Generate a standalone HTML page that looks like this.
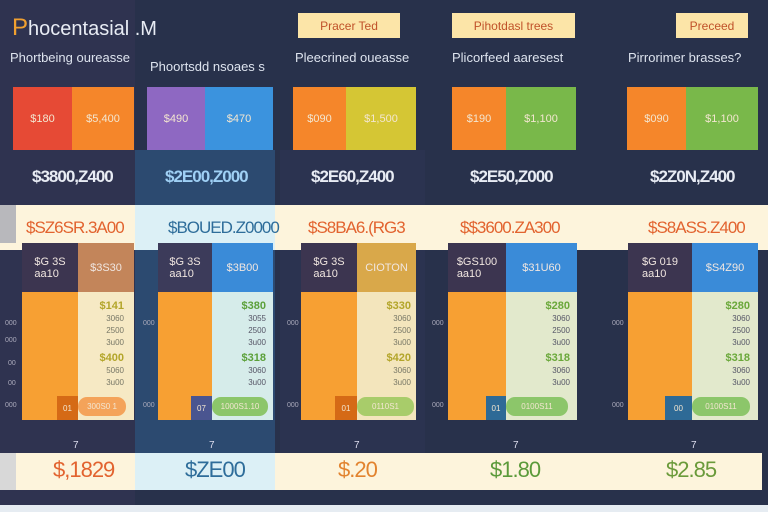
<!DOCTYPE html>
<html><head><meta charset="utf-8"><style>
*{margin:0;padding:0;box-sizing:border-box}
body{width:768px;height:512px;overflow:hidden;background:#28314b;font-family:"Liberation Sans",sans-serif;position:relative}
div{position:absolute}
.t{white-space:nowrap;text-align:center}
.s{font-size:11px;color:#f3e6d0;display:flex;align-items:center;justify-content:center}
.badge{background:#fce5a8;color:#c0522a;font-size:12px;display:flex;align-items:center;justify-content:center;top:13px;height:25px}
.sub{font-size:13px;color:#dde3ee;top:50px}
.val{font-size:17px;color:#e8ecf4;top:167px;font-weight:bold;letter-spacing:-1px}
.band{font-size:17px;top:218px;letter-spacing:-1px}
.price{font-size:22px;top:457px;letter-spacing:-1px}
.hd{top:243px;height:49px;font-size:11px;color:#f0e6e0;display:flex;align-items:center;justify-content:center}
.or{top:292px;height:128px;background:#f7a033}
.cr{top:292px;height:128px}
.ax{font-size:7px;color:#aab;left:0}
.sm{font-size:11px;font-weight:bold;text-align:right}
</style></head><body>
<div style="left:0;top:0;width:135px;height:512px;background:#2f3350"></div>
<div style="left:135px;top:150px;width:140px;height:340px;background:#2c4a70"></div>
<div style="left:280px;top:150px;width:145px;height:340px;background:#2b3350"></div>
<div style="left:12px;top:14px;font-size:20px;color:#e8ecf4;white-space:nowrap"><span style="color:#f0a030;font-size:24px">P</span>hocentasial .M</div>
<div class="badge" style="left:298px;width:102px">Pracer Ted</div>
<div class="badge" style="left:452px;width:123px">Pihotdasl trees</div>
<div class="badge" style="left:676px;width:72px">Preceed</div>
<div class="sub t" style="left:10px">Phortbeing oureasse</div>
<div class="sub t" style="left:150px;top:59px">Phoortsdd nsoaes s</div>
<div class="sub t" style="left:295px">Pleecrined oueasse</div>
<div class="sub t" style="left:452px">Plicorfeed aaresest</div>
<div class="sub t" style="left:628px">Pirrorimer brasses?</div>
<div class="s" style="left:13px;top:87px;width:59px;height:63px;background:#e64a35">$180</div>
<div class="s" style="left:72px;top:87px;width:62px;height:63px;background:#f5862a">$5,400</div>
<div class="s" style="left:147px;top:87px;width:58px;height:63px;background:#8e68c2">$490</div>
<div class="s" style="left:205px;top:87px;width:68px;height:63px;background:#3b93de">$470</div>
<div class="s" style="left:293px;top:87px;width:53px;height:63px;background:#f5862a">$090</div>
<div class="s" style="left:346px;top:87px;width:70px;height:63px;background:#d5c634">$1,500</div>
<div class="s" style="left:452px;top:87px;width:54px;height:63px;background:#f5862a">$190</div>
<div class="s" style="left:506px;top:87px;width:70px;height:63px;background:#79b84a">$1,100</div>
<div class="s" style="left:627px;top:87px;width:59px;height:63px;background:#f5862a">$090</div>
<div class="s" style="left:686px;top:87px;width:72px;height:63px;background:#79b84a">$1,100</div>
<div class="val" style="left:32px">$3800,Z400</div>
<div class="val" style="left:165px;color:#9fd0f5">$2E00,Z000</div>
<div class="val" style="left:311px">$2E60,Z400</div>
<div class="val" style="left:470px">$2E50,Z000</div>
<div class="val" style="left:650px">$2Z0N,Z400</div>
<div style="left:0;top:205px;width:768px;height:45px;background:#fdf4dc"></div>
<div style="left:135px;top:205px;width:140px;height:45px;background:#dcf0f6"></div>
<div style="left:0;top:205px;width:16px;height:38px;background:#b8b8bc"></div>
<div class="band" style="left:26px;color:#e2632f">$SZ6SR.3A00</div>
<div class="band" style="left:168px;color:#2e6d9a">$BOUED.Z0000</div>
<div class="band" style="left:308px;color:#e2632f">$S8BA6.(RG3</div>
<div class="band" style="left:460px;color:#e2632f">$$3600.ZA300</div>
<div class="band" style="left:648px;color:#e2632f">$S8ASS.Z400</div>
<div class="hd" style="left:22px;width:56px;background:#3c3550">$G 3S<br>aa10</div>
<div class="hd" style="left:78px;width:56px;background:#c3855a">$3S30</div>
<div class="hd" style="left:158px;width:54px;background:#3c3b5a">$G 3S<br>aa10</div>
<div class="hd" style="left:212px;width:61px;background:#3a8bd8">$3B00</div>
<div class="hd" style="left:301px;width:56px;background:#3c3550">$G 3S<br>aa10</div>
<div class="hd" style="left:357px;width:59px;background:#d9a84a">CIOTON</div>
<div class="hd" style="left:448px;width:58px;background:#3c3550">$GS100<br>aa10</div>
<div class="hd" style="left:506px;width:71px;background:#3a8bd8">$31U60</div>
<div class="hd" style="left:628px;width:64px;background:#3c3550">$G 019<br>aa10</div>
<div class="hd" style="left:692px;width:66px;background:#3a8bd8">$S4Z90</div>
<div class="or" style="left:22px;width:56px"></div><div class="cr" style="left:78px;width:56px;background:#f6e9c4"></div>
<div class="or" style="left:158px;width:54px"></div><div class="cr" style="left:212px;width:61px;background:#d6ecea"></div>
<div class="or" style="left:301px;width:56px"></div><div class="cr" style="left:357px;width:59px;background:#f3e5bc"></div>
<div class="or" style="left:448px;width:58px"></div><div class="cr" style="left:506px;width:71px;background:#e2e9cc"></div>
<div class="or" style="left:628px;width:64px"></div><div class="cr" style="left:692px;width:66px;background:#e2e9cc"></div>
<div class="sm" style="left:80px;top:300px;width:44px;color:#b3a52a">$141<br><span style="font-size:8px;color:#776;font-weight:normal">3060<br>2500<br>3u00</span></div>
<div class="sm" style="left:80px;top:352px;width:44px;color:#b3a52a">$400<br><span style="font-size:8px;color:#776;font-weight:normal">5060<br>3u00</span></div>
<div class="sm" style="left:214px;top:300px;width:52px;color:#5ba03a">$380<br><span style="font-size:8px;color:#556;font-weight:normal">3055<br>2500<br>3u00</span></div>
<div class="sm" style="left:214px;top:352px;width:52px;color:#5ba03a">$318<br><span style="font-size:8px;color:#556;font-weight:normal">3060<br>3u00</span></div>
<div class="sm" style="left:359px;top:300px;width:52px;color:#b3a52a">$330<br><span style="font-size:8px;color:#776;font-weight:normal">3060<br>2500<br>3u00</span></div>
<div class="sm" style="left:359px;top:352px;width:52px;color:#b3a52a">$420<br><span style="font-size:8px;color:#776;font-weight:normal">3060<br>3u00</span></div>
<div class="sm" style="left:508px;top:300px;width:62px;color:#6aa83a">$280<br><span style="font-size:8px;color:#556;font-weight:normal">3060<br>2500<br>3u00</span></div>
<div class="sm" style="left:508px;top:352px;width:62px;color:#6aa83a">$318<br><span style="font-size:8px;color:#556;font-weight:normal">3060<br>3u00</span></div>
<div class="sm" style="left:694px;top:300px;width:56px;color:#6aa83a">$280<br><span style="font-size:8px;color:#556;font-weight:normal">3060<br>2500<br>3u00</span></div>
<div class="sm" style="left:694px;top:352px;width:56px;color:#6aa83a">$318<br><span style="font-size:8px;color:#556;font-weight:normal">3060<br>3u00</span></div>
<div class="s" style="left:57px;top:396px;width:21px;height:24px;background:#d56a16;font-size:8px">01</div>
<div class="s" style="left:78px;top:397px;width:48px;height:19px;background:#f4a35a;border-radius:9px;font-size:8px">300S0 1</div>
<div class="s" style="left:191px;top:396px;width:21px;height:24px;background:#4a5590;font-size:8px">07</div>
<div class="s" style="left:212px;top:397px;width:56px;height:19px;background:#8cc66a;border-radius:9px;font-size:8px">1000S1.10</div>
<div class="s" style="left:335px;top:396px;width:22px;height:24px;background:#d56a16;font-size:8px">01</div>
<div class="s" style="left:357px;top:397px;width:57px;height:19px;background:#a8cc6a;border-radius:9px;font-size:8px">0110S1</div>
<div class="s" style="left:486px;top:396px;width:20px;height:24px;background:#2e6a96;font-size:8px">01</div>
<div class="s" style="left:506px;top:397px;width:62px;height:19px;background:#8cc66a;border-radius:9px;font-size:8px">0100S11</div>
<div class="s" style="left:665px;top:396px;width:27px;height:24px;background:#2e6a96;font-size:8px">00</div>
<div class="s" style="left:692px;top:397px;width:58px;height:19px;background:#8cc66a;border-radius:9px;font-size:8px">0100S11</div>
<div class="ax" style="left:5px;top:320px">000</div><div class="ax" style="left:5px;top:337px">000</div><div class="ax" style="left:8px;top:360px">00</div><div class="ax" style="left:8px;top:380px">00</div><div class="ax" style="left:5px;top:402px">000</div>
<div class="ax" style="left:143px;top:320px">000</div><div class="ax" style="left:143px;top:402px">000</div>
<div class="ax" style="left:287px;top:320px">000</div><div class="ax" style="left:287px;top:402px">000</div>
<div class="ax" style="left:432px;top:320px">000</div><div class="ax" style="left:432px;top:402px">000</div>
<div class="ax" style="left:612px;top:320px">000</div><div class="ax" style="left:612px;top:402px">000</div>
<div style="left:73px;top:440px;color:#dde;font-size:10px">7</div>
<div style="left:209px;top:440px;color:#dde;font-size:10px">7</div>
<div style="left:354px;top:440px;color:#dde;font-size:10px">7</div>
<div style="left:513px;top:440px;color:#dde;font-size:10px">7</div>
<div style="left:691px;top:440px;color:#dde;font-size:10px">7</div>
<div style="left:0;top:453px;width:762px;height:37px;background:#fdf4dc"></div>
<div style="left:0;top:453px;width:16px;height:37px;background:#d8d8d8"></div>
<div style="left:135px;top:453px;width:140px;height:37px;background:#dcf0f6"></div>
<div class="price" style="left:53px;color:#e2632f">$,1829</div>
<div class="price" style="left:185px;color:#2e6d9a">$ZE00</div>
<div class="price" style="left:338px;color:#e2832f">$.20</div>
<div class="price" style="left:490px;color:#5b9a3a">$1.80</div>
<div class="price" style="left:666px;color:#6a9a3a">$2.85</div>
<div style="left:0;top:505px;width:768px;height:7px;background:#e6ecf2"></div>
</body></html>
